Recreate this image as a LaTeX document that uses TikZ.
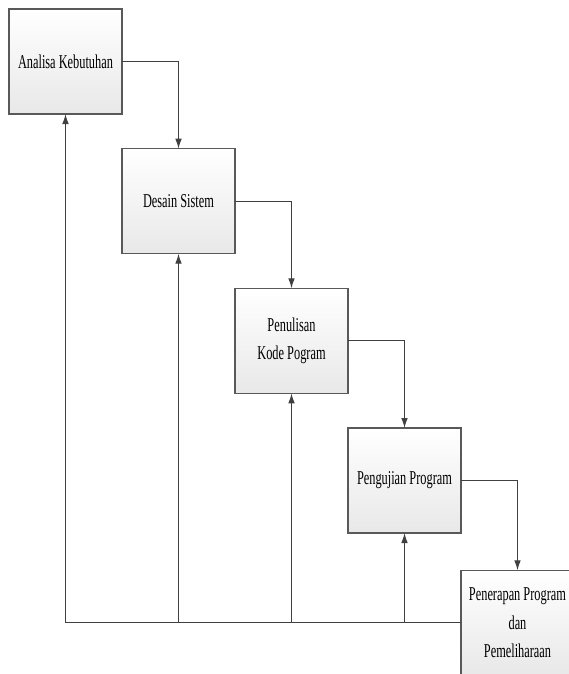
\documentclass[tikz,border=0pt]{standalone}
\usepackage{fontspec}
\usepackage{tikz}
\usetikzlibrary{arrows.meta,positioning}
\newfontfamily\boxfont[FakeStretch=0.63]{Liberation Serif}

\begin{document}
\begin{tikzpicture}[
  x=0.75pt, y=-0.75pt,
  node distance=26pt and 0pt,
  proc/.style={rectangle, draw=black!65, line width=1pt, outer sep=0pt, top color=white, bottom color=black!9,
    minimum width=84.75pt, minimum height=78.75pt, align=center,
    font=\boxfont\fontsize{14.7}{21.5}\selectfont},
  arr/.style={-{Latex[length=7.5pt, width=5pt]}, black!75, line width=0.9pt},
  line/.style={black!75, line width=0.9pt}
]
\useasboundingbox (0,0) rectangle (568,674);
\node[proc, anchor=north west] (analisa) at (9,9) {Analisa Kebutuhan};
\node[proc, below right=of analisa] (desain) {Desain Sistem};
\node[proc, below right=of desain] (kode) {Penulisan\\Kode Pogram};
\node[proc, below right=of kode] (uji) {Pengujian Program};
\node[proc, below right=28pt and 0pt of uji] (terap) {Penerapan Program\\dan\\Pemeliharaan};
% alur maju
\draw[arr] (analisa.east) -| (desain.north);
\draw[arr] (desain.east) -| (kode.north);
\draw[arr] (kode.east) -| (uji.north);
\draw[arr] (uji.east) -| (terap.north);
% alur balik
\coordinate (balik) at (terap.west -| analisa.south);
\draw[line] (terap.west) -- (balik);
\draw[arr] (balik) -- (analisa.south);
\draw[arr] (terap.west -| desain.south) -- (desain.south);
\draw[arr] (terap.west -| kode.south) -- (kode.south);
\draw[arr] (terap.west -| uji.south) -- (uji.south);
\end{tikzpicture}
\end{document}
